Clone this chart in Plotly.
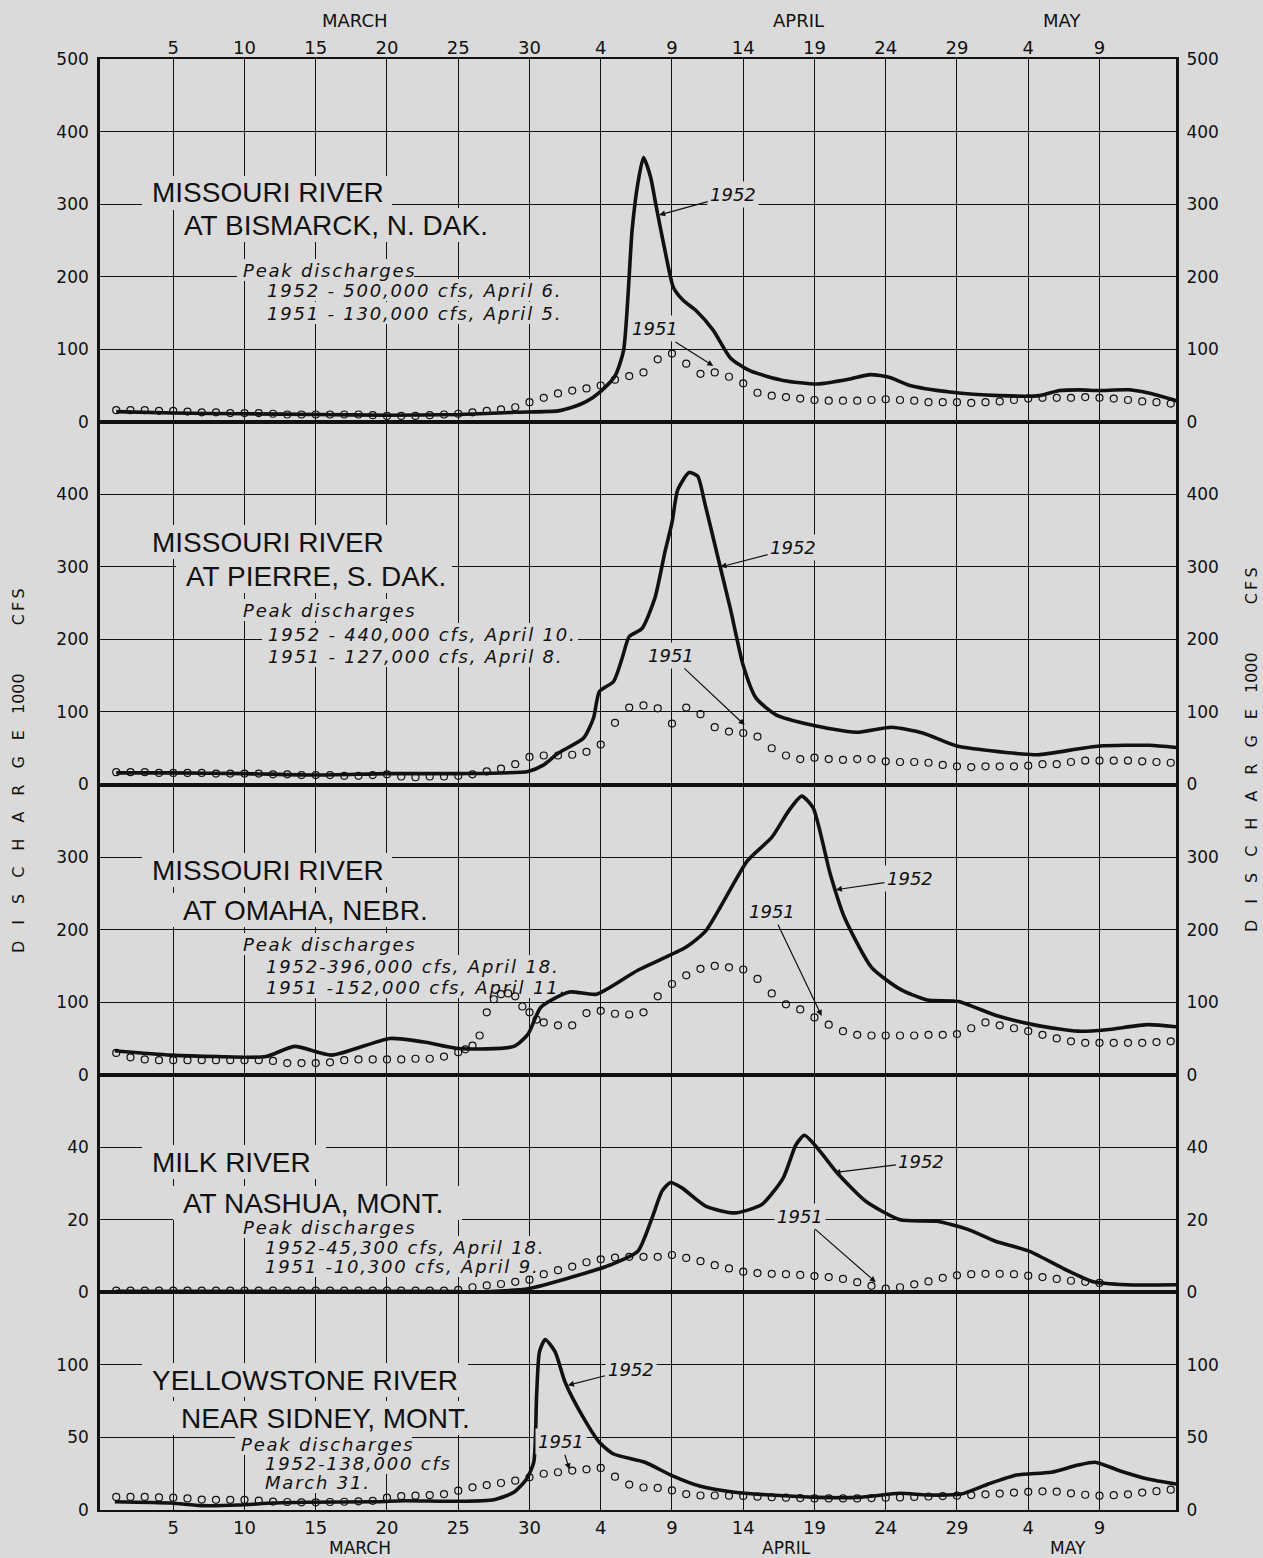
import plotly.graph_objects as go

# ---------------- data (discharge, 1000 cfs; day 1 = March 1) ----------------
DAYS_1951 = list(range(1, 76))

BIS_1951 = [16, 16, 16, 15, 15, 14, 13, 13, 12, 12, 12, 11, 10, 10, 10, 10, 10, 10, 9, 8,
            8, 8, 9, 10, 11, 13, 15, 17, 20, 27, 33, 39, 43, 46, 50, 58, 63, 68, 86, 94,
            80, 66, 68, 62, 53, 40, 36, 34, 32, 30, 29, 29, 29, 30, 31, 30, 29, 27, 27, 27,
            26, 27, 28, 30, 32, 33, 33, 33, 34, 33, 32, 30, 28, 27, 25]
BIS_1952_DAY = [1, 5, 10, 15, 20, 25, 29, 32, 33, 34, 35, 36, 36.6, 37.2, 37.6, 38.0, 38.5, 38.9,
                39.6, 40.1, 40.8, 41.7, 42.9, 44.1, 45.5, 47.8, 50.2, 52.5, 53.9, 55.3, 56.7,
                59.5, 63, 65.8, 67.2, 68.6, 70, 72.1, 74.2, 75.4]
BIS_1952_Q = [14, 12, 11, 10, 9, 10, 13, 15, 20, 28, 42, 63, 98, 264, 328, 364, 337, 296,
              227, 185, 167, 153, 126, 88, 70, 57, 52, 59, 65, 61, 50,
              41, 36, 36, 43, 44, 43, 44, 36, 29]

PIE_1951 = [17, 17, 17, 16, 16, 16, 16, 15, 15, 15, 15, 14, 14, 13, 13, 13, 12, 12, 13, 14,
            11, 10, 11, 11, 12, 14, 18, 22, 28, 38, 40, 40, 41, 45, 55, 85, 106, 109, 105, 84,
            106, 97, 79, 73, 71, 66, 50, 40, 35, 37, 35, 34, 35, 35, 32, 31, 31, 30, 27, 25,
            24, 25, 25, 25, 26, 28, 28, 31, 33, 33, 33, 33, 32, 31, 30]
PIE_1952_DAY = [1, 5, 10, 15, 20, 25, 29.9, 31, 32, 33.8, 34.5, 34.9, 35.9, 36.5, 37, 37.9, 38.8,
                39.5, 40, 40.4, 41.2, 41.8, 42.3, 43.2, 44.1, 45, 45.9, 47.3, 49.8, 52.9, 55.4,
                57.6, 60, 64.6, 65.7, 70, 73.5, 75.4]
PIE_1952_Q = [16, 16, 15, 13, 15, 15, 18, 27, 43, 64, 92, 128, 142, 174, 204, 215, 257,
              320, 361, 406, 430, 425, 388, 315, 242, 164, 119, 96, 82, 72, 79,
              71, 53, 42, 41, 53, 54, 51]

OMA_1951_DAY = [1, 2, 3, 4, 5, 6, 7, 8, 9, 10, 11, 12, 13, 14, 15, 16, 17, 18, 19, 20,
                21, 22, 23, 24, 25, 25.5, 26, 26.5, 27, 27.5, 28, 28.5, 29, 29.5, 30, 30.5,
                31, 32, 33, 34, 35, 36, 37, 38, 39, 40, 41, 42, 43, 44, 45, 46, 47, 48, 49, 50,
                51, 52, 53, 54, 55, 56, 57, 58, 59, 60, 61, 62, 63, 64, 65, 66, 67, 68, 69, 70,
                71, 72, 73, 74, 75]
OMA_1951 = [30, 24, 21, 20, 20, 20, 20, 20, 20, 20, 20, 19, 16, 16, 16, 17, 20, 21, 21, 21,
            21, 22, 22, 25, 31, 35, 40, 54, 86, 104, 111, 112, 108, 94, 86, 76,
            72, 68, 68, 85, 88, 84, 83, 86, 108, 125, 137, 146, 150, 148, 145, 132, 112, 97, 90, 79,
            69, 60, 55, 54, 54, 54, 54, 55, 55, 56, 64, 72, 68, 64, 60, 55, 50, 46, 44, 44,
            44, 44, 44, 45, 46]
OMA_1952_DAY = [0.9, 4.8, 8.1, 11.5, 13.5, 16.1, 20.2, 22.6, 25, 28.9, 29.9, 30.8, 32.8, 34.7,
                37.6, 41, 42.4, 45.3, 47, 48.2, 49.1, 49.9, 51.1, 52.1, 54, 56, 57.9, 60.1,
                62.7, 65.6, 68.5, 70.5, 73.4, 75.4]
OMA_1952_Q = [33, 27, 25, 25, 39, 27, 50, 45, 36, 39, 56, 93, 114, 111,
              144, 176, 199, 295, 327, 364, 384, 368, 277, 217, 148, 118, 103, 101,
              82, 68, 60, 62, 69, 66]

MILK_1951 = [0.5, 0.5, 0.5, 0.5, 0.5, 0.5, 0.5, 0.5, 0.5, 0.5, 0.5, 0.5, 0.5, 0.5, 0.5, 0.5,
             0.5, 0.5, 0.5, 0.5, 0.5, 0.5, 0.5, 0.5, 0.7, 1.4, 1.9, 2.3, 2.9, 3.5, 5.0, 6.1,
             7.1, 8.3, 9.1, 9.6, 9.8, 9.8, 9.8, 10.3, 9.5, 8.6, 7.5, 6.6, 5.7, 5.3, 5.1, 5.0,
             4.8, 4.5, 4.2, 3.7, 2.8, 1.8, 1.0, 1.4, 2.2, 3.0, 4.0, 4.7, 5.0, 5.1, 5.1, 5.0,
             4.6, 4.2, 3.7, 3.2, 2.9, 2.6]
MILK_1952_DAY = [1, 5, 10, 15, 20, 25, 26, 29.9, 32.8, 35.7, 37.6, 38.6, 39.3, 39.9, 40.7, 42.4,
                 44.4, 46.3, 47.8, 48.7, 49.3, 50.2, 51.6, 53.6, 56, 58.6, 60.8, 62.7, 65.1,
                 67.6, 69.5, 71.9, 75.4]
MILK_1952_Q = [0.3, 0.3, 0.3, 0.3, 0.3, 0.2, 0, 1, 4, 7.6, 11.3, 20.5, 27.9, 30.3, 28.8, 23.7,
               21.9, 24.2, 31.5, 40.7, 43.3, 39.8, 32.9, 25.1, 20, 19.6, 17.3, 14.1, 11.3,
               6.3, 3, 2.1, 2.1]

YEL_1951 = [9, 9, 9, 8.7, 8.5, 8, 7.2, 7, 7, 7, 6.5, 5.8, 5.5, 5.3, 5.3, 5.5, 5.7, 6, 6.3, 8.5,
            9.6, 9.9, 10.3, 11, 13.3, 15.6, 17.2, 18.6, 20.2, 22.5, 25, 26, 27.2, 28, 29, 23,
            17.5, 15.5, 15.2, 13.5, 11, 10, 10, 9.9, 9.7, 9.2, 8.8, 8.5, 8.2, 8, 8, 8, 8, 8.2,
            8.5, 8.7, 9, 9.3, 9.6, 9.9, 10.3, 10.8, 11.3, 12, 12.5, 12.9, 12.6, 11.5, 10.5,
            9.9, 10.2, 10.8, 12, 13, 14]
YEL_1952_DAY = [0.9, 4.8, 7, 9.6, 12, 14.4, 19.3, 21.2, 25, 27.5, 28.9, 29.8, 30.3, 30.5, 30.7,
                31.1, 31.8, 32.5, 33.7, 34.9, 35.9, 38.1, 40, 42, 44.4, 46.9, 50.2, 53.1, 56,
                57.9, 60.3, 62.2, 64.2, 66.6, 68.5, 69.7, 71.4, 73.4, 75.4]
YEL_1952_Q = [5.7, 4.8, 3, 3.4, 4.8, 5.3, 5.7, 6.4, 6, 7.1, 12.2, 21.4, 33, 79, 109,
              117.5, 109, 88, 65, 46.7, 38.6, 32.9, 23.7, 16.3, 12.2, 10.3, 8.7, 8.7, 11.5,
              10.3, 11, 17.9, 24.1, 26, 31, 32.9, 27.1, 21.4, 17.9]

DAY_TICKS = [5, 10, 15, 20, 25, 30, 35, 40, 45, 50, 55, 60, 65, 70]
DAY_LABELS = ["5", "10", "15", "20", "25", "30", "4", "9", "14", "19", "24", "29", "4", "9"]
MONTHS = ["MARCH", "APRIL", "MAY"]

TITLES = [("MISSOURI RIVER", "AT BISMARCK, N. DAK."),
          ("MISSOURI RIVER", "AT PIERRE, S. DAK."),
          ("MISSOURI RIVER", "AT OMAHA, NEBR."),
          ("MILK RIVER", "AT NASHUA, MONT."),
          ("YELLOWSTONE RIVER", "NEAR SIDNEY, MONT.")]
PEAKS = [("1952 - 500,000 cfs, April 6.", "1951 - 130,000 cfs, April 5."),
         ("1952 - 440,000 cfs, April 10.", "1951 - 127,000 cfs, April 8."),
         ("1952-396,000 cfs, April 18.", "1951 -152,000 cfs, April 11."),
         ("1952-45,300 cfs, April 18.", "1951 -10,300 cfs, April 9."),
         ("1952-138,000 cfs", "March 31.")]

Y_RANGES = [[0, 500], [0, 500], [0, 400], [0, 60], [0, 150]]
Y_TICKS = [[0, 100, 200, 300, 400, 500], [0, 100, 200, 300, 400], [0, 100, 200, 300],
           [0, 20, 40], [0, 50, 100]]

# ---------------- styling / layout ----------------
BG = "#dadada"
INK = "#111111"
FONT = "DejaVu Sans"
TFONT = "Liberation Sans"
CLEAR = "rgba(0,0,0,0)"
W, H = 1263, 1558
PL, PR, PT, PB = 100, 1176, 59, 1510
X_RANGE = [-0.14, 75.37]
DOMAINS = [[0.75, 1.0], [0.5, 0.75], [0.3, 0.5], [0.15, 0.3], [0.0, 0.15]]

# text placement in page pixels: (left, centre-y, right edge of the erased box)
TITLE_POS = [((152, 193, 392), (184, 225, 494)), ((152, 542, 392), (186, 576, 452)),
             ((152, 870, 392), (183, 910, 447)), ((152, 1162, 326), (183, 1203, 462)),
             ((152, 1380, 468), (181, 1418, 480))]
PEAK_POS = [((243, 270, 414), (267, 290, 566), (267, 313, 566)),
            ((243, 610, 414), (268, 634, 578), (268, 656, 566)),
            ((243, 944, 414), (266, 966, 562), (266, 987, 568)),
            ((243, 1227, 414), (265, 1247, 547), (265, 1266, 540)),
            ((241, 1444, 412), (265, 1463, 454), (265, 1482, 372))]


def pp(px, py):
    return (px - PL) / (PR - PL), (PB - py) / (PB - PT)


def px2data(panel, px, py):
    d = X_RANGE[0] + (px - PL) / (PR - PL) * (X_RANGE[1] - X_RANGE[0])
    lo, hi = DOMAINS[panel]
    top = PB - hi * (PB - PT)
    bot = PB - lo * (PB - PT)
    q = Y_RANGES[panel][1] * (bot - py) / (bot - top)
    return d, q


def tracked(txt):
    return "\u200a".join(txt)


series = [
    (DAYS_1951, BIS_1951, BIS_1952_DAY, BIS_1952_Q),
    (DAYS_1951, PIE_1951, PIE_1952_DAY, PIE_1952_Q),
    (OMA_1951_DAY, OMA_1951, OMA_1952_DAY, OMA_1952_Q),
    (DAYS_1951[:len(MILK_1951)], MILK_1951, MILK_1952_DAY, MILK_1952_Q),
    (DAYS_1951, YEL_1951, YEL_1952_DAY, YEL_1952_Q),
]

fig = go.Figure()
for i, (d51, q51, d52, q52) in enumerate(series):
    yid = "y" if i == 0 else f"y{i+1}"
    fig.add_trace(go.Scatter(x=d51, y=q51, mode="markers", xaxis="x", yaxis=yid,
                             marker=dict(symbol="circle-open", size=7, color=INK,
                                         line=dict(width=1.2, color=INK)),
                             showlegend=False, hoverinfo="skip"))
    fig.add_trace(go.Scatter(x=d52, y=q52, mode="lines", xaxis="x", yaxis=yid,
                             line=dict(color=INK, width=3.6, shape="spline", smoothing=0.6),
                             showlegend=False, hoverinfo="skip"))
    # invisible companion so the right-hand mirror axis is drawn
    fig.add_trace(go.Scatter(x=d52, y=q52, mode="lines", xaxis="x", yaxis=f"y{i+6}",
                             line=dict(width=0), opacity=0, showlegend=False, hoverinfo="skip"))
# invisible companion for the top date axis
fig.add_trace(go.Scatter(x=BIS_1952_DAY, y=BIS_1952_Q, mode="lines", xaxis="x2", yaxis="y",
                         line=dict(width=0), opacity=0, showlegend=False, hoverinfo="skip"))

tickfont = dict(family=FONT, size=17, color=INK)
layout = dict(
    width=W, height=H,
    margin=dict(l=PL, r=W - PR, t=PT, b=H - PB, pad=0),
    paper_bgcolor=BG, plot_bgcolor=BG,
    showlegend=False,
    xaxis=dict(domain=[0, 1], range=X_RANGE, anchor="y5", tickmode="array",
               tickvals=DAY_TICKS, ticktext=DAY_LABELS, tickfont=dict(family=FONT, size=18, color=INK),
               showgrid=True, gridcolor=INK, gridwidth=1.4, zeroline=False,
               showline=True, linecolor=INK, linewidth=2.2, mirror="all", ticks=""),
    xaxis2=dict(range=X_RANGE, overlaying="x", side="top", anchor="y", tickmode="array",
                tickvals=DAY_TICKS, ticktext=DAY_LABELS, tickfont=dict(family=FONT, size=18, color=INK),
                showgrid=False, zeroline=False, showline=False, ticks=""),
)
for i in range(5):
    key = "yaxis" if i == 0 else f"yaxis{i+1}"
    layout[key] = dict(domain=DOMAINS[i], range=Y_RANGES[i], anchor="x", tickmode="array",
                       tickvals=Y_TICKS[i], tickfont=tickfont,
                       showgrid=True, gridcolor=INK, gridwidth=1.4, zeroline=False,
                       showline=True, linecolor=INK, linewidth=2.6, mirror=True,
                       ticks="outside", ticklen=5, tickcolor=CLEAR)
    ov = "y" if i == 0 else f"y{i+1}"
    layout[f"yaxis{i+6}"] = dict(range=Y_RANGES[i], overlaying=ov, side="right", anchor="x",
                                 tickmode="array", tickvals=Y_TICKS[i], tickfont=tickfont,
                                 showgrid=False, zeroline=False, showline=False,
                                 ticks="outside", ticklen=6, tickcolor=CLEAR)
fig.update_layout(**layout)

ann = []
shapes = []


def erase_box(panel, left, cy, right, half):
    yref = "y" if panel == 0 else f"y{panel+1}"
    x0, y0 = px2data(panel, left, cy + half)
    x1, y1 = px2data(panel, right, cy - half)
    shapes.append(dict(type="rect", xref="x", yref=yref, x0=x0, x1=x1, y0=y0, y1=y1,
                       fillcolor=BG, line=dict(width=0), layer="between"))


for i in range(5):
    for txt, (px, py, pr) in zip(TITLES[i], TITLE_POS[i]):
        erase_box(i, px - 10, py, pr, 17)
        x, y = pp(px - 2, py)
        ann.append(dict(x=x, y=y, xref="paper", yref="paper", text=txt, showarrow=False,
                        xanchor="left", yanchor="middle",
                        font=dict(family=TFONT, size=28, color=INK)))
    lines = ("Peak discharges",) + PEAKS[i]
    for txt, (px, py, pr) in zip(lines, PEAK_POS[i]):
        erase_box(i, px - 6, py, pr, 11)
        x, y = pp(px - 2, py)
        ann.append(dict(x=x, y=y, xref="paper", yref="paper", text=f"<i>{tracked(txt)}</i>",
                        showarrow=False, xanchor="left", yanchor="middle",
                        font=dict(family=FONT, size=18, color=INK)))

# year labels with arrows: (panel, label, text_day, text_q, tip_day, tip_q)
YEAR_LABELS = [
    (0, "1952", 44.3, 313, 39.1, 285), (0, "1951", 38.8, 128, 42.9, 77),
    (1, "1952", 48.5, 326, 43.4, 300), (1, "1951", 39.9, 178, 45.1, 82),
    (2, "1952", 56.7, 270, 51.5, 255), (2, "1951", 47.0, 225, 50.5, 81),
    (3, "1952", 57.5, 36, 51.4, 33), (3, "1951", 49.0, 21, 54.3, 2.8),
    (4, "1952", 37.1, 97, 32.7, 86), (4, "1951", 32.2, 47, 32.8, 28),
]
for p, txt, tx, ty, hx, hy in YEAR_LABELS:
    yref = "y" if p == 0 else f"y{p+1}"
    ann.append(dict(x=hx, y=hy, xref="x", yref=yref, ax=tx, ay=ty, axref="x", ayref=yref,
                    text=f"<i>{txt}</i>", showarrow=True, arrowhead=2, arrowsize=1,
                    arrowwidth=1.2, arrowcolor=INK, standoff=0, bgcolor=BG, borderpad=2,
                    font=dict(family=FONT, size=18, color=INK)))

# month labels
for name, px in zip(MONTHS, (355, 798, 1062)):
    x, y = pp(px, 20)
    ann.append(dict(x=x, y=y, xref="paper", yref="paper", text=name, showarrow=False,
                    xanchor="center", yanchor="middle", font=dict(family=FONT, size=18, color=INK)))
for name, px in zip(MONTHS, (360, 786, 1068)):
    x, y = pp(px, 1548)
    ann.append(dict(x=x, y=y, xref="paper", yref="paper", text=name, showarrow=False,
                    xanchor="center", yanchor="middle", font=dict(family=FONT, size=17, color=INK)))

# vertical axis titles
ytitle = ("\u2003".join("DISCHARGE") + "\u2003" + "1000" + "\u2003\u2003\u2003"
          + "\u2009".join("CFS"))
for px, py in ((18, 771), (1251, 750)):
    x, y = pp(px, py)
    ann.append(dict(x=x, y=y, xref="paper", yref="paper", text=ytitle, showarrow=False,
                    textangle=-90, xanchor="center", yanchor="middle",
                    font=dict(family=FONT, size=16, color=INK)))

fig.update_layout(annotations=ann, shapes=shapes)
fig.write_html("out.html", config={"displayModeBar": False},
               post_script="document.body.style.margin='0';document.body.style.padding='0';"
                           "document.body.style.overflow='hidden';")
